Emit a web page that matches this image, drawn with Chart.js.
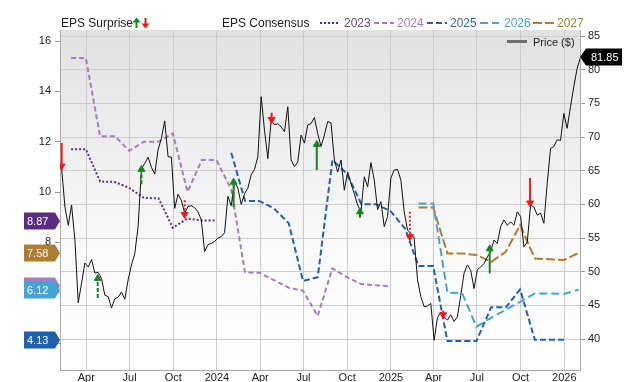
<!DOCTYPE html>
<html>
<head>
<meta charset="utf-8">
<script src="https://cdn.jsdelivr.net/npm/chart.js@4.4.1/dist/chart.umd.min.js"></script>
<style>
  body { margin: 0; background: #fff; font-family: "Liberation Sans", Arial, sans-serif; }
  #wrap { position: relative; width: 640px; height: 382px; overflow: hidden; }
  #wrap canvas { position: absolute; left: 0; top: 0; }
  .lbl { position: absolute; font-size: 12px; line-height: 14px; color: #222; white-space: nowrap; }
  .sw { position: absolute; }
</style>
</head>
<body>
<div id="wrap">
  <canvas id="grafik" width="640" height="382"></canvas>

  <div class="lbl" style="left:61px;top:16px">EPS Surprise</div>
  <svg class="sw" style="left:132px;top:17px" width="18" height="12">
    <path d="M4.5 11V4" stroke="#14861c" stroke-width="2"/>
    <path d="M0.5 5.5L4.5 0.5L8.5 5.5Z" fill="#14861c"/>
    <path d="M13.5 1V8" stroke="#f01818" stroke-width="2"/>
    <path d="M9.5 6.5L13.5 11.5L17.5 6.5Z" fill="#f01818"/>
  </svg>

  <div class="lbl" style="left:222px;top:16px">EPS Consensus</div>
  <svg class="sw" style="left:319px;top:18px" width="265" height="10">
    <line x1="1" y1="5" x2="21" y2="5" stroke="#5b2d82" stroke-width="2" stroke-dasharray="2 2"/>
    <line x1="55" y1="5" x2="75" y2="5" stroke="#a57cc0" stroke-width="2" stroke-dasharray="5 3"/>
    <line x1="108" y1="5" x2="128" y2="5" stroke="#2060b0" stroke-width="2" stroke-dasharray="6 3"/>
    <line x1="161" y1="5" x2="180" y2="5" stroke="#45a3d5" stroke-width="2" stroke-dasharray="8 4"/>
    <line x1="214" y1="5" x2="235" y2="5" stroke="#b07d30" stroke-width="2" stroke-dasharray="9 3"/>
  </svg>
  <div class="lbl" style="left:344px;top:16px;color:#6a3e93">2023</div>
  <div class="lbl" style="left:397px;top:16px;color:#a57cc0">2024</div>
  <div class="lbl" style="left:450px;top:16px;color:#2e6bb3">2025</div>
  <div class="lbl" style="left:504px;top:16px;color:#45a3d5">2026</div>
  <div class="lbl" style="left:557px;top:16px;color:#a8792f">2027</div>

  <div class="sw" style="left:507px;top:40px;width:20px;height:3px;background:#6f6f6f"></div>
  <div class="lbl" style="left:533px;top:35px;font-size:11px">Price ($)</div>
</div>

<script>
// weekly closing price, first week 2023-02-08
const priceStart = "2023-02-08";
const priceWeekly = [
  65.4, 59.6, 56.9, 59.9, 54.7, 45.4, 48.3, 51.3, 50.7, 51.8,
  49.8, 49.9, 49.0, 46.5, 46.3, 44.6, 46.0, 46.2, 47.0, 45.9,
  48.8, 51.0, 52.7, 56.7, 65.3, 66.1, 67.0, 65.5, 64.5, 68.1,
  69.8, 72.4, 67.1, 67.0, 59.4, 61.5, 60.6, 58.7, 59.7, 59.8,
  59.5, 58.9, 57.7, 53.0, 54.0, 54.2, 54.5, 55.0, 55.2, 55.8,
  61.2, 59.8, 63.4, 62.4, 60.0, 61.6, 62.4, 64.4, 65.2, 67.1,
  76.0, 71.0, 66.8, 72.5, 71.8, 72.0, 71.5, 70.8, 74.5, 66.6,
  65.6, 66.3, 70.3, 69.1, 71.8, 72.0, 72.9, 70.5, 68.6, 70.3,
  72.3, 72.1, 66.6, 64.8, 66.6, 62.1, 64.8, 63.1, 61.6, 59.9,
  58.9, 64.1, 62.6, 66.2, 63.6, 59.2, 60.4, 56.7, 58.2, 63.9,
  65.1, 65.2, 63.6, 58.9, 56.2, 55.7, 55.0, 48.8, 46.3, 44.8,
  44.9, 45.3, 39.8, 43.2, 44.0, 43.3, 42.8, 43.6, 42.6, 43.3,
  46.5, 49.8, 51.0, 50.2, 47.5, 50.3, 50.7, 51.2, 52.2, 53.0,
  54.7, 54.2, 56.7, 57.7, 56.9, 57.4, 56.9, 58.9, 58.2, 53.7,
  54.4, 59.9, 59.6, 58.4, 58.7, 57.2, 63.1, 68.3, 68.6, 69.6,
  69.5, 73.5, 71.3, 74.5, 77.5, 80.2, 81.85
];

// monthly consensus (month end)
const months = [
  "2023-02", "2023-03", "2023-04", "2023-05", "2023-06", "2023-07", "2023-08", "2023-09", "2023-10", "2023-11", "2023-12",
  "2024-01", "2024-02", "2024-03", "2024-04", "2024-05", "2024-06", "2024-07", "2024-08", "2024-09", "2024-10", "2024-11", "2024-12",
  "2025-01", "2025-02", "2025-03", "2025-04", "2025-05", "2025-06", "2025-07", "2025-08", "2025-09", "2025-10", "2025-11", "2025-12",
  "2026-01"
];
const _ = null;
const eps2023 = [11.70, 11.70, 10.42, 10.40, 10.17, 9.77, 9.75, 8.58, 8.95, 8.87, 8.87,
  _, _, _, _, _, _, _, _, _, _, _, _, _, _, _, _, _, _, _, _, _, _, _, _, _];
const eps2024 = [15.33, 15.33, 12.22, 12.22, 11.64, 12.00, 12.00, 12.33, 10.01, 11.27, 11.27,
  10.10, 6.81, 6.79, 6.50, 6.20, 6.08, 5.08, 6.97, 6.62, 6.34, 6.30, 6.25,
  _, _, _, _, _, _, _, _, _, _, _, _, _];
const eps2025 = [_, _, _, _, _, _, _, _, _, _, _,
  11.56, 9.65, 9.64, 9.35, 8.76, 6.47, 6.62, 11.27, 10.74, 9.52, 9.52, 9.25,
  8.55, 7.06, 7.06, 4.08, 4.08, 4.08, 5.42, 5.42, 6.13, 4.13, 4.13, 4.13, _];
const eps2026 = [_, _, _, _, _, _, _, _, _, _, _, _, _, _, _, _, _, _, _, _, _, _, _, _,
  9.55, 9.55, 6.00, 5.98, 4.65, 5.00, 5.33, 5.64, 5.97, 5.97, 5.95, 6.12];
const eps2027 = [_, _, _, _, _, _, _, _, _, _, _, _, _, _, _, _, _, _, _, _, _, _, _, _,
  9.39, 9.39, 7.56, 7.56, 7.50, 7.23, 7.63, 8.69, 7.36, 7.33, 7.30, 7.58];

// EPS surprise arrows (on price axis)
const surpriseDates = ["2023-02-08", "2023-04-25", "2023-07-26", "2023-10-25", "2024-02-05", "2024-04-25",
  "2024-07-29", "2024-10-28", "2025-02-10", "2025-04-21", "2025-07-28", "2025-10-21"];
const surpriseFrom = [69.1, 46.1, 63.0, 60.6, 59.6, 73.6, 65.1, 58.0, 58.9, 44.2, 49.75, 63.9];
const surpriseTo = [65.7, 49.0, 65.2, 58.5, 63.3, 72.6, 68.9, 58.9, 55.2, 43.6, 53.4, 60.2];
const surpriseStyle = ["solid", "dashed", "dashed", "dotted", "solid", "solid",
  "solid", "solid", "dotted", "dotted", "solid", "solid"];

const tickDates = ["2023-04-01", "2023-07-01", "2023-10-01", "2024-01-01", "2024-04-01", "2024-07-01",
  "2024-10-01", "2025-01-01", "2025-04-01", "2025-07-01", "2025-10-01", "2026-01-01"];
const tickLabels = ["Apr", "Jul", "Oct", "2024", "Apr", "Jul", "Oct", "2025", "Apr", "Jul", "Oct", "2026"];
const epsTicks = [4, 6, 8, 10, 12, 14, 16];
const priceTicks = [40, 45, 50, 55, 60, 65, 70, 75, 80, 85];

const FONT = "'Liberation Sans', Arial, sans-serif";
const day0 = Date.UTC(2023, 0, 1);
function dayOf(s) {
  const p = s.split("-").map(Number);
  return (Date.UTC(p[0], p[1] - 1, p[2] || 1) - day0) / 864e5;
}
function monthEnd(m) {
  const p = m.split("-").map(Number);
  return (Date.UTC(p[0], p[1], 0) - day0) / 864e5;
}

const consensus = [
  { label: "2023", values: eps2023, color: "#5b2d82", dash: [2, 2] },
  { label: "2024", values: eps2024, color: "#a57cc0", dash: [5, 3] },
  { label: "2025", values: eps2025, color: "#2060b0", dash: [6, 3] },
  { label: "2026", values: eps2026, color: "#45a3d5", dash: [8, 4] },
  { label: "2027", values: eps2027, color: "#b07d30", dash: [9, 3] },
];
const dashFor = { solid: [], dashed: [4, 2], dotted: [2, 2] };

const datasets = [];
surpriseDates.forEach((d, i) => {
  const up = surpriseTo[i] > surpriseFrom[i];
  const col = up ? "#14861c" : "#f01818";
  datasets.push({
    yAxisID: "yPrice",
    order: 0,
    data: [{ x: dayOf(d), y: surpriseFrom[i] }, { x: dayOf(d), y: surpriseTo[i] }],
    borderColor: col,
    backgroundColor: col,
    borderWidth: 2,
    borderDash: dashFor[surpriseStyle[i]],
    pointRadius: [0, 4],
    pointStyle: "triangle",
    pointRotation: up ? 0 : 180,
    pointBorderWidth: 1,
  });
});
datasets.push({
  label: "Price ($)",
  yAxisID: "yPrice",
  order: 1,
  data: priceWeekly.map((v, i) => ({ x: dayOf(priceStart) + 7 * i, y: v })),
  borderColor: "#111",
  borderWidth: 1,
  pointRadius: 0,
});
consensus.forEach((s) => {
  datasets.push({
    label: s.label,
    yAxisID: "y",
    order: 2,
    data: months.map((m, i) => ({ x: monthEnd(m), y: s.values[i] })).filter((p) => p.y !== null),
    borderColor: s.color,
    borderWidth: 2,
    borderDash: s.dash,
    pointRadius: 0,
  });
});

function lastOf(arr) {
  for (let i = arr.length - 1; i >= 0; i--) if (arr[i] !== null) return arr[i];
  return null;
}

const bgPlugin = {
  id: "bg",
  beforeDraw(chart) {
    const a = chart.chartArea;
    const ctx = chart.ctx;
    const g = ctx.createLinearGradient(0, a.top, 0, a.bottom);
    g.addColorStop(0, "#e1e1e1");
    g.addColorStop(0.65, "#fafafa");
    g.addColorStop(1, "#ffffff");
    ctx.save();
    ctx.fillStyle = g;
    ctx.fillRect(a.left, a.top, a.right - a.left, a.bottom - a.top);
    ctx.restore();
  },
};

const badgePlugin = {
  id: "badges",
  afterDraw(chart) {
    const ctx = chart.ctx;
    const yE = chart.scales.y;
    const yP = chart.scales.yPrice;
    const a = chart.chartArea;
    ctx.save();
    ctx.font = "11px " + FONT;
    ctx.textBaseline = "middle";
    consensus.forEach((s) => {
      const v = lastOf(s.values);
      const cy = Math.round(yE.getPixelForValue(v));
      ctx.fillStyle = s.color;
      ctx.beginPath();
      ctx.moveTo(24, cy - 8.5);
      ctx.lineTo(a.left - 5, cy - 8.5);
      ctx.lineTo(a.left, cy);
      ctx.lineTo(a.left - 5, cy + 8.5);
      ctx.lineTo(24, cy + 8.5);
      ctx.closePath();
      ctx.fill();
      ctx.fillStyle = "#fff";
      ctx.fillText(v.toFixed(2), 27, cy + 1);
    });
    const pv = priceWeekly[priceWeekly.length - 1];
    const py = Math.round(yP.getPixelForValue(pv));
    ctx.fillStyle = "#000";
    ctx.beginPath();
    ctx.moveTo(a.right, py);
    ctx.lineTo(a.right + 6, py - 8.5);
    ctx.lineTo(622, py - 8.5);
    ctx.lineTo(622, py + 8.5);
    ctx.lineTo(a.right + 6, py + 8.5);
    ctx.closePath();
    ctx.fill();
    ctx.fillStyle = "#fff";
    ctx.fillText(pv.toFixed(2), 591, py + 1);
    ctx.restore();
  },
};

new Chart(document.getElementById("grafik"), {
  type: "line",
  data: { datasets: datasets },
  options: {
    responsive: false,
    animation: false,
    devicePixelRatio: 1,
    layout: { padding: { top: 30, left: 0, right: 0, bottom: 0 } },
    plugins: { legend: { display: false }, tooltip: { enabled: false } },
    scales: {
      x: {
        type: "linear",
        min: 34.6,
        max: 1129,
        afterBuildTicks: (s) => { s.ticks = tickDates.map((d) => ({ value: dayOf(d) })); },
        afterFit: (s) => { s.height = 12; },
        ticks: {
          autoSkip: false,
          maxRotation: 0,
          padding: 1,
          color: "#222",
          font: { size: 11, family: FONT },
          callback: (v, i) => tickLabels[i],
        },
        grid: { color: "#cccccc", drawTicks: false },
        border: { color: "#aaaaaa" },
      },
      y: {
        position: "left",
        min: 2.93,
        max: 16.44,
        afterBuildTicks: (s) => { s.ticks = epsTicks.map((v) => ({ value: v })); },
        afterFit: (s) => { s.width = 60; },
        ticks: { padding: 4, color: "#222", font: { size: 11, family: FONT } },
        grid: { drawOnChartArea: false, tickLength: 5, color: "#999" },
        border: { color: "#aaaaaa" },
      },
      yPrice: {
        position: "right",
        min: 35.4,
        max: 85.9,
        afterBuildTicks: (s) => { s.ticks = priceTicks.map((v) => ({ value: v })); },
        afterFit: (s) => { s.width = 60; },
        ticks: { padding: 3, color: "#222", font: { size: 11, family: FONT } },
        grid: { color: "#cccccc", tickLength: 5, tickColor: "#999" },
        border: { color: "#aaaaaa" },
      },
    },
  },
  plugins: [bgPlugin, badgePlugin],
});
</script>
</body>
</html>
